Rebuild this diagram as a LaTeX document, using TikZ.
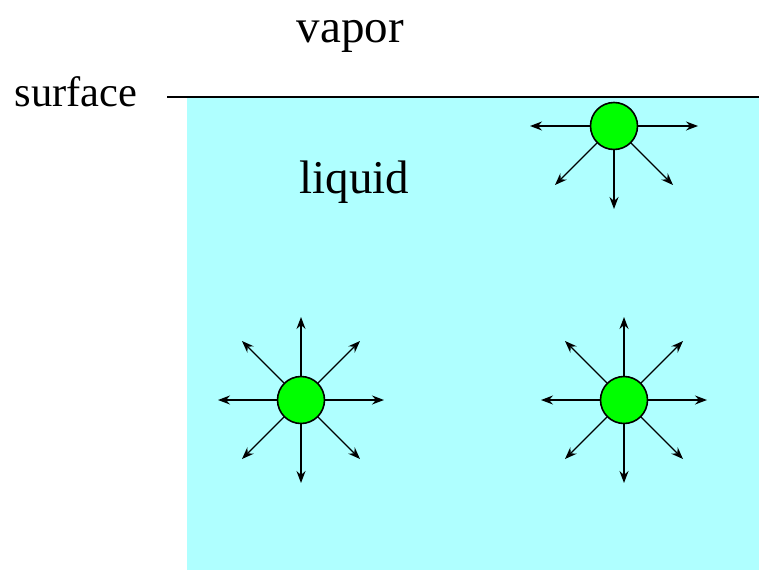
\documentclass[tikz,border=0pt]{standalone}
\usepackage{fontspec}
\setmainfont{Liberation Serif}
\usetikzlibrary{arrows.meta}
\definecolor{liq}{RGB}{175,255,255}
\definecolor{mol}{RGB}{0,255,0}
\tikzset{
  molecule/.style={circle, draw=black, line width=1.6pt, fill=mol, minimum size=47pt, inner sep=0pt},
  force/.style={line width=1.3pt, -{Stealth[length=12pt,width=9pt,inset=4pt]}},
  biglabel/.style={font=\fontsize{47}{56}\selectfont, anchor=base, inner sep=0pt},
  sidelabel/.style={font=\fontsize{42.5}{51}\selectfont, anchor=base, inner sep=0pt}
}
\begin{document}
\begin{tikzpicture}[x=1pt,y=-1pt]
\useasboundingbox (0,0) rectangle (759,570);
\fill[liq] (187,97) rectangle (759,570);
\coordinate (sL) at (167,97);
\coordinate (sR) at (759,97);
\draw[line width=1.8pt] (sL) -- (sR);
\node[biglabel] (vapor) at (350.5,42.5) {vapor};
\node[sidelabel] (surface) at (76,106) {surface};
\node[biglabel] (liquid) at (354.5,193) {liquid};
% top molecule
\node[molecule] (m1) at (614,126) {};
\coordinate (m1a) at (530,126);
\coordinate (m1b) at (698,126);
\coordinate (m1c) at (614,209);
\coordinate (m1d) at (555,185);
\coordinate (m1e) at (673,185);
\foreach \t in {m1a,m1b,m1c,m1d,m1e} \draw[force] (m1) -- (\t);
% bottom-left molecule
\node[molecule] (m2) at (301,400) {};
\coordinate (m2a) at (384,400);
\coordinate (m2b) at (360,341);
\coordinate (m2c) at (301,317);
\coordinate (m2d) at (242,341);
\coordinate (m2e) at (218,400);
\coordinate (m2f) at (242,459);
\coordinate (m2g) at (301,483);
\coordinate (m2h) at (360,459);
\foreach \t in {m2a,m2b,m2c,m2d,m2e,m2f,m2g,m2h} \draw[force] (m2) -- (\t);
% bottom-right molecule
\node[molecule] (m3) at (624,400) {};
\coordinate (m3a) at (707,400);
\coordinate (m3b) at (683,341);
\coordinate (m3c) at (624,317);
\coordinate (m3d) at (565,341);
\coordinate (m3e) at (541,400);
\coordinate (m3f) at (565,459);
\coordinate (m3g) at (624,483);
\coordinate (m3h) at (683,459);
\foreach \t in {m3a,m3b,m3c,m3d,m3e,m3f,m3g,m3h} \draw[force] (m3) -- (\t);
\end{tikzpicture}
\end{document}
